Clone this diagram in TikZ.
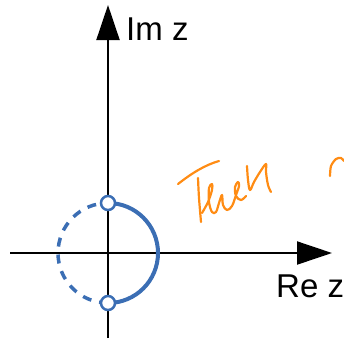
\documentclass[tikz,border=0pt]{standalone}
\usepackage{fontspec}
\setmainfont{Liberation Sans}
\usetikzlibrary{arrows.meta}
\definecolor{zblue}{RGB}{59,110,180}
\definecolor{zorange}{RGB}{255,140,20}
\begin{document}
\begin{tikzpicture}[x=1pt,y=-1pt,
  axis/.style={line width=2pt,-{Triangle[length=35pt,width=23pt]}},
  marker/.style={circle,draw=zblue,fill=white,line width=2.5pt,minimum size=14pt,inner sep=0pt},
  lbl/.style={font=\fontsize{33}{38}\selectfont,inner sep=0pt,anchor=base west},
  solidarc/.style={draw=zblue,line width=4pt},
  dasharc/.style={draw=zblue,line width=3.5pt,dash pattern=on 9pt off 8pt},
  pen/.style={draw=zorange,line width=2.2pt,line cap=round,line join=round}]
\useasboundingbox (0,0) rectangle (344,341);
\coordinate (O) at (108,253);
\coordinate (xs) at (10,253);
\coordinate (xe) at (332,253);
\coordinate (ys) at (108,338);
\coordinate (ye) at (108,5);
\draw[axis] (xs) -- (xe);
\draw[axis] (ys) -- (ye);
\coordinate (topc) at (108,203);
\coordinate (botc) at (108,303);
\draw[solidarc] (topc) arc[start angle=-90,end angle=90,radius=50];
\draw[dasharc] (botc) arc[start angle=90,end angle=270,radius=50];
\node[marker] (top) at (topc) {};
\node[marker] (bot) at (botc) {};
\node[lbl] (im) at (126,40) {Im z};
\node[lbl] (re) at (276,297) {Re z};
% handwritten scribble
\draw[pen] (178,184) .. controls (192,173) and (205,165) .. (219,161);
\draw[pen] plot[smooth] coordinates {(198,178) (199,198) (201,222)};
\draw[pen] plot[smooth,tension=0.6] coordinates {(202,213) (208,202) (212,190) (212,184) (209,188) (209,202) (212,212) (216,212) (219,203) (222,195) (223,205) (227,210) (232,206) (236,195) (239,186) (238,182) (235,187) (236,196) (241,200) (246,196)};
\draw[pen] plot[smooth,tension=0.6] coordinates {(247,166) (248,180) (250,190) (254,182) (260,172) (266,164) (266,172) (268,185) (271,192)};
\draw[pen] plot[smooth] coordinates {(330,176) (331,166) (336,159) (341,158) (344,161)};
\end{tikzpicture}
\end{document}
